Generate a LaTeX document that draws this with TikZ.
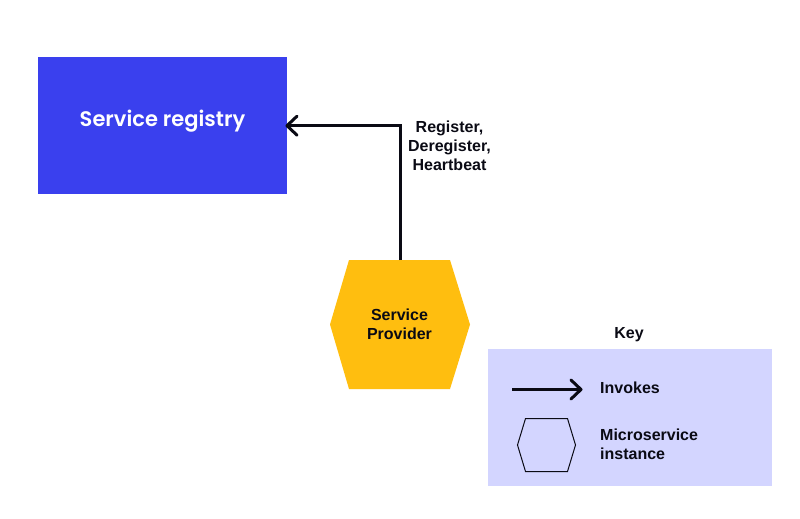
\documentclass[tikz,border=0pt]{standalone}
\usepackage{fontspec}
\setmainfont{Liberation Sans}
\newfontfamily\titlefont{Poppins SemiBold}
\usetikzlibrary{arrows.meta}
\definecolor{regblue}{HTML}{3A40EE}
\definecolor{provyellow}{HTML}{FFBE0F}
\definecolor{keybg}{HTML}{D3D5FF}
\definecolor{inkc}{HTML}{0A0A14}
\tikzset{
 lbl/.style={font=\fontsize{16}{19}\selectfont\bfseries,align=center,text=inkc,inner sep=0pt},
 conn/.style={line width=3pt,draw=inkc,-{Straight Barb[length=10pt,width=19pt,line width=3pt,round]}},
}
\begin{document}
\begin{tikzpicture}[x=1pt,y=-1pt]
\useasboundingbox (0,0) rectangle (800,519);
\fill[white] (0,0) rectangle (800,519);
\node[fill=regblue,minimum width=249pt,minimum height=137pt,inner sep=0pt,anchor=north west] (reg) at (38,57) {};
\node[text=white,font=\fontsize{21}{24}\selectfont\titlefont,inner sep=0pt] (regt) at (162.5,121) {Service registry};
\fill[provyellow] (349,260)--(450,260)--(470,324.5)--(450,389)--(349,389)--(330,324.5)--cycle;
\coordinate (provtop) at (400.2,260);
\node[lbl] (prov) at (399.5,324.5) {Service\\Provider};
\coordinate (regin) at (285.5,125.7);
\draw[conn] (provtop) -- (400.2,125.7) -- (regin);
\node[lbl] (rl) at (449.5,146) {Register,\\Deregister,\\Heartbeat};
\node[lbl] (key) at (629,334.5) {Key};
\node[fill=keybg,minimum width=284pt,minimum height=137pt,inner sep=0pt,anchor=north west] (kb) at (488,349) {};
\coordinate (a1) at (512,389.5);
\coordinate (a2) at (582.5,389.5);
\draw[conn] (a1) -- (a2);
\node[lbl,anchor=west] (inv) at (600,388) {Invokes};
\draw[inkc,line width=1pt] (525.5,418.5)--(567.5,418.5)--(575.5,445)--(567.5,471.5)--(525.5,471.5)--(517.5,445)--cycle;
\node[lbl,anchor=west,align=left] (ms) at (600,444.5) {Microservice\\instance};
\end{tikzpicture}
\end{document}
